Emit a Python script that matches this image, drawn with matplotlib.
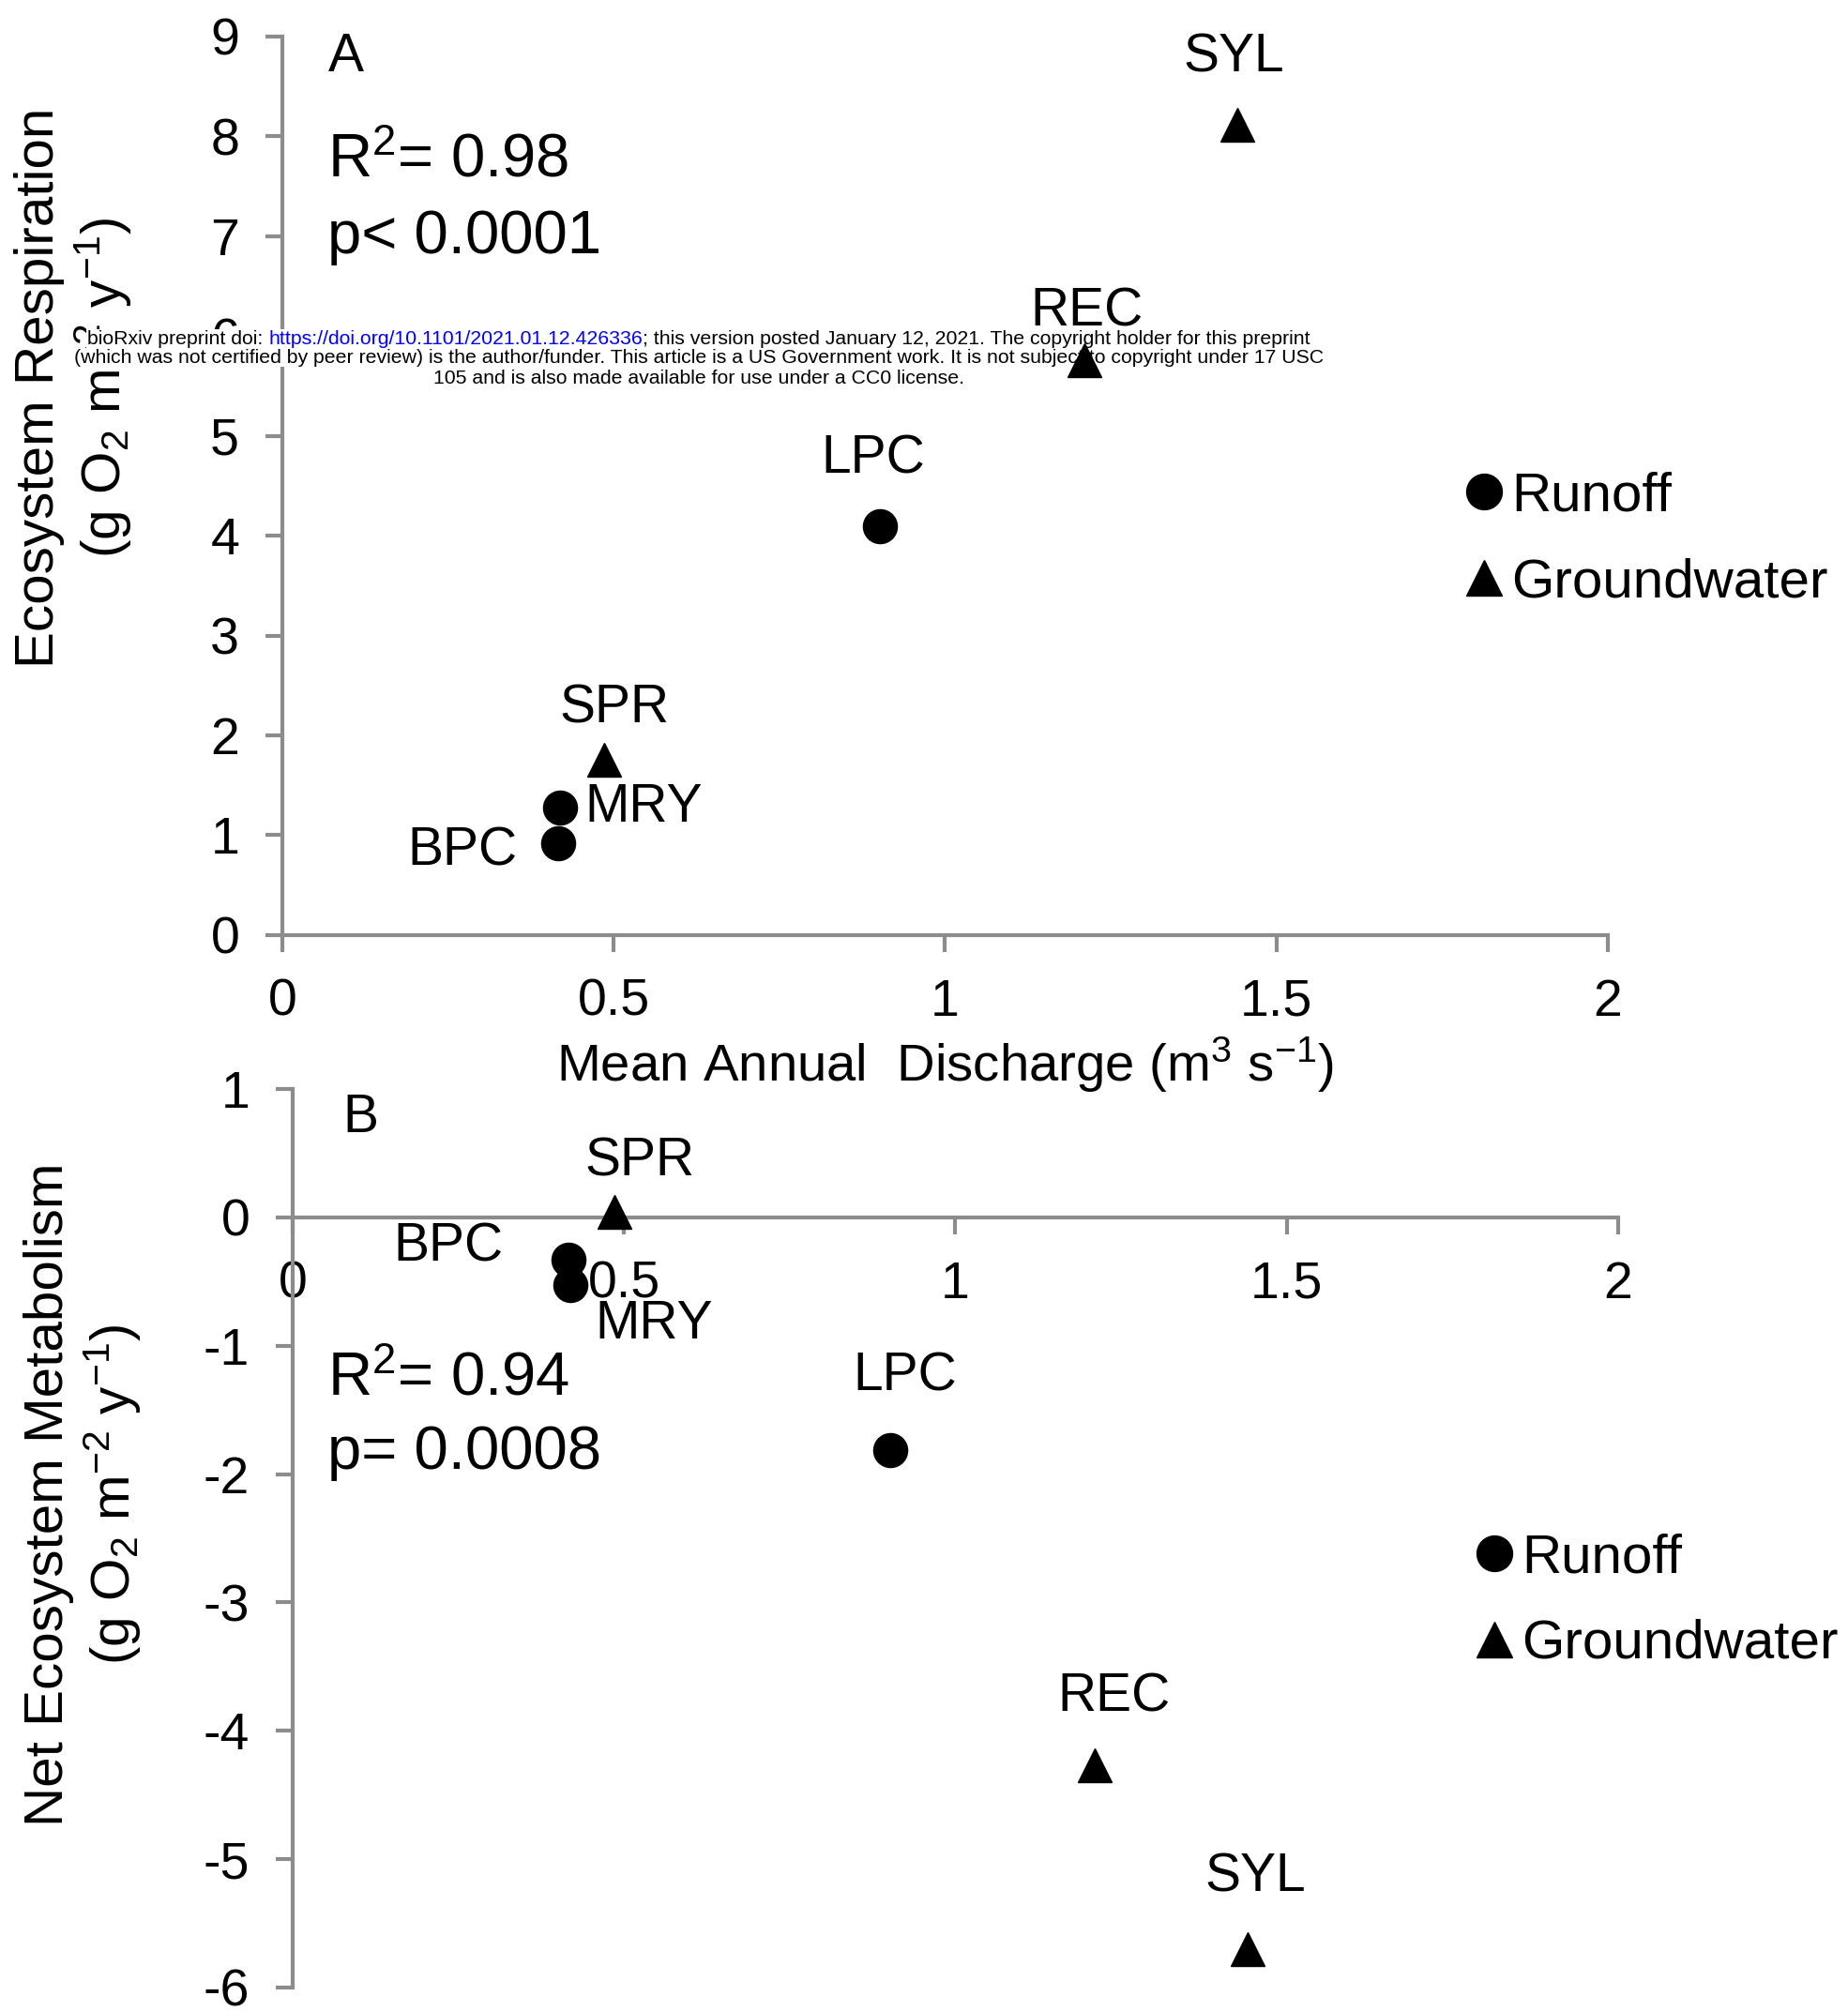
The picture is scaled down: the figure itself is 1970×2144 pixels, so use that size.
import numpy as np
import matplotlib
matplotlib.use("Agg")
import matplotlib.pyplot as plt

plt.rcParams['font.family'] = ['Liberation Sans', 'DejaVu Sans']
plt.rcParams['mathtext.fontset'] = 'custom'
plt.rcParams['mathtext.rm'] = 'Liberation Sans'
plt.rcParams['mathtext.it'] = 'Liberation Sans:italic'
plt.rcParams['mathtext.bf'] = 'Liberation Sans:bold'
plt.rcParams['axes.unicode_minus'] = False

# data
sites = ['SYL', 'REC', 'LPC', 'SPR', 'MRY', 'BPC']
source = ['Groundwater', 'Groundwater', 'Runoff', 'Groundwater', 'Runoff', 'Runoff']
discharge = [1.441, 1.210, 0.901, 0.486, 0.419, 0.416]
er = [8.11, 5.76, 4.09, 1.76, 1.28, 0.92]
nem = [-5.70, -4.27, -1.81, 0.04, -0.53, -0.33]

# label offsets (points) for each site, panel A and B
offs_a = {'SYL': (-3, 52, 'center'), 'REC': (2, 37, 'center'), 'LPC': (-5, 52, 'center'),
          'SPR': (8, 39, 'center'), 'MRY': (19, 0, 'left'), 'BPC': (-31, -6, 'right')}
offs_b = {'SYL': (6, 55, 'center'), 'REC': (15, 52, 'center'), 'LPC': (12, 56, 'center'),
          'SPR': (19, 39, 'center'), 'MRY': (64, -30, 'center'), 'BPC': (-50, 10, 'right')}

xticks = [0, 0.5, 1, 1.5, 2]
xticklabels = ['0', '0.5', '1', '1.5', '2']

grey = '#8c8c8c'
fs = 40

fig = plt.figure(figsize=(19.7, 21.44), dpi=100)
ax_a = fig.add_axes([0.1528, 0.535, 0.7172, 0.447])
ax_b = fig.add_axes([0.1584, 0.0117, 0.7172, 0.4468])
ax_b.patch.set_visible(False)

markers = {'Runoff': 'o', 'Groundwater': '^'}
disc = np.array(discharge)
src = np.array(source)


def style_axis(ax):
    for s in ['top', 'right']:
        ax.spines[s].set_visible(False)
    for s in ['left', 'bottom']:
        ax.spines[s].set_color(grey)
        ax.spines[s].set_linewidth(3)
    ax.tick_params(axis='both', colors=grey, width=3, length=13, labelsize=fs,
                   labelcolor='black', pad=20)
    ax.set_xticks(xticks)
    ax.set_xticklabels(xticklabels)
    ax.set_xlim(0, 2)


def draw_points(ax, yvals, offs):
    y = np.array(yvals)
    for name in ['Runoff', 'Groundwater']:
        m = src == name
        ax.plot(disc[m], y[m], ls='none', marker=markers[name], ms=26,
                color='black', label=name, zorder=5, clip_on=False)
    for s, xv, yv in zip(sites, discharge, yvals):
        dx, dy, ha = offs[s]
        ax.annotate(s, (xv, yv), xytext=(dx, dy), textcoords='offset points',
                    ha=ha, va='center', fontsize=41, zorder=6)


# Panel A
style_axis(ax_a)
ax_a.set_ylim(0, 9)
ax_a.set_yticks(range(0, 10))
draw_points(ax_a, er, offs_a)
ax_a.text(0.048, 0.977, 'A', transform=ax_a.transAxes, fontsize=41, ha='center', va='center')
ax_a.text(0.034, 0.861, r'R$^2$= 0.98', transform=ax_a.transAxes, fontsize=47, va='center')
ax_a.text(0.034, 0.776, 'p< 0.0001', transform=ax_a.transAxes, fontsize=47, va='center')
ax_a.set_xlabel(r'Mean Annual  Discharge (m$^3$ s$^{-1}$)', fontsize=40.5, va='center')
ax_a.xaxis.set_label_coords(0.5, -0.144)
ax_a.set_ylabel('Ecosystem Respiration\n' + r'(g O$_2$ m$^{-2}$ y$^{-1}$)',
                fontsize=42, va='center', linespacing=1.15)
ax_a.yaxis.set_label_coords(-0.157, 0.609)
ax_a.legend(loc='center left', bbox_to_anchor=(0.892, 0.44), frameon=False,
            fontsize=42, handlelength=0.7, handletextpad=0.15, labelspacing=0.65,
            borderpad=0, borderaxespad=0, markerscale=1.05)

# Panel B
style_axis(ax_b)
ax_b.set_ylim(-6, 1)
ax_b.set_yticks(range(-6, 2))
ax_b.spines['bottom'].set_position(('data', 0))
draw_points(ax_b, nem, offs_b)
ax_b.text(0.051, 0.968, 'B', transform=ax_b.transAxes, fontsize=41, ha='center', va='center')
ax_b.text(0.026, 0.677, r'R$^2$= 0.94', transform=ax_b.transAxes, fontsize=47, va='center')
ax_b.text(0.026, 0.595, 'p= 0.0008', transform=ax_b.transAxes, fontsize=47, va='center')
ax_b.set_ylabel('Net Ecosystem Metabolism\n' + r'(g O$_2$ m$^{-2}$ y$^{-1}$)',
                fontsize=42, va='center', linespacing=1.15)
ax_b.yaxis.set_label_coords(-0.158, 0.549)
ax_b.legend(loc='center left', bbox_to_anchor=(0.892, 0.43), frameon=False,
            fontsize=42, handlelength=0.7, handletextpad=0.15, labelspacing=0.65,
            borderpad=0, borderaxespad=0, markerscale=1.05)

# preprint watermark
wm_fs = 15.3
wm_x = 0.378
wm_lines_y = [0.8316, 0.8221, 0.8118]
line1 = [('bioRxiv preprint doi: ', 'black'),
         ('https://doi.org/10.1101/2021.01.12.426336', '#0000ff'),
         ('; this version posted January 12, 2021. The copyright holder for this preprint', 'black')]
line2 = ('(which was not certified by peer review) is the author/funder. This article is a US '
         'Government work. It is not subject to copyright under 17 USC')
line3 = '105 and is also made available for use under a CC0 license.'

renderer = fig.canvas.get_renderer()


def text_width(s):
    t = fig.text(0, 0, s, fontsize=wm_fs)
    w = t.get_window_extent(renderer).width
    t.remove()
    return w


full1 = ''.join(p[0] for p in line1)
total_w = text_width(full1) / fig.bbox.width
x0 = wm_x - total_w / 2
prefix = ''
wx = text_width('x')
bb = dict(facecolor='white', edgecolor='none', pad=0.3)
for s, c in line1:
    off = (text_width(prefix + 'x') - wx) / fig.bbox.width if prefix else 0
    ax_a.text(x0 + off, wm_lines_y[0], s, color=c, fontsize=wm_fs, transform=fig.transFigure,
              ha='left', va='center', zorder=3, clip_on=False, bbox=bb)
    prefix += s
ax_a.text(wm_x, wm_lines_y[1], line2, fontsize=wm_fs, transform=fig.transFigure,
          ha='center', va='center', zorder=3, clip_on=False, bbox=bb)
ax_a.text(wm_x, wm_lines_y[2], line3, fontsize=wm_fs, transform=fig.transFigure,
          ha='center', va='center', zorder=3, clip_on=False, bbox=bb)

fig.savefig('out.png', dpi=100)
